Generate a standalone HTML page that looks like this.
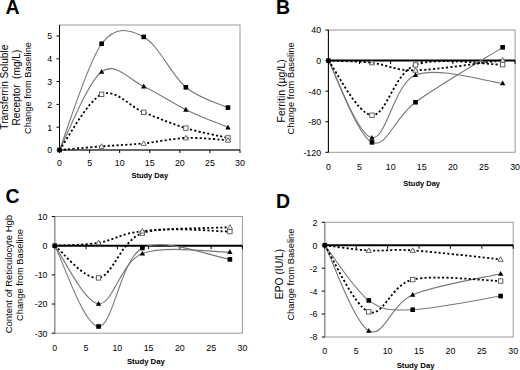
<!DOCTYPE html>
<html><head><meta charset="utf-8"><title>Figure</title>
<style>
html,body{margin:0;padding:0;background:#fff;}
body{width:520px;height:370px;overflow:hidden;}
svg{display:block;font-family:"Liberation Sans", sans-serif;}
</style></head>
<body>
<svg width="520" height="370" viewBox="0 0 520 370">
<rect width="520" height="370" fill="#fff"/>
<rect x="59.5" y="25" width="180.5" height="125" fill="none" stroke="#9a9a9a" stroke-width="1"/>
<line x1="59.5" y1="25" x2="59.5" y2="150" stroke="#000" stroke-width="1"/>
<line x1="56.5" y1="150" x2="59.5" y2="150" stroke="#000" stroke-width="1"/>
<text x="0" y="0" transform="translate(52.2,153.4) scale(0.92,1)" font-size="9.6" text-anchor="end" font-weight="normal" fill="#000">0</text>
<line x1="56.5" y1="127.2" x2="59.5" y2="127.2" stroke="#000" stroke-width="1"/>
<text x="0" y="0" transform="translate(52.2,130.6) scale(0.92,1)" font-size="9.6" text-anchor="end" font-weight="normal" fill="#000">1</text>
<line x1="56.5" y1="104.4" x2="59.5" y2="104.4" stroke="#000" stroke-width="1"/>
<text x="0" y="0" transform="translate(52.2,107.8) scale(0.92,1)" font-size="9.6" text-anchor="end" font-weight="normal" fill="#000">2</text>
<line x1="56.5" y1="81.59" x2="59.5" y2="81.59" stroke="#000" stroke-width="1"/>
<text x="0" y="0" transform="translate(52.2,84.99) scale(0.92,1)" font-size="9.6" text-anchor="end" font-weight="normal" fill="#000">3</text>
<line x1="56.5" y1="58.79" x2="59.5" y2="58.79" stroke="#000" stroke-width="1"/>
<text x="0" y="0" transform="translate(52.2,62.19) scale(0.92,1)" font-size="9.6" text-anchor="end" font-weight="normal" fill="#000">4</text>
<line x1="56.5" y1="35.99" x2="59.5" y2="35.99" stroke="#000" stroke-width="1"/>
<text x="0" y="0" transform="translate(52.2,39.39) scale(0.92,1)" font-size="9.6" text-anchor="end" font-weight="normal" fill="#000">5</text>
<line x1="59.5" y1="150" x2="240" y2="150" stroke="#000" stroke-width="1"/>
<line x1="59.5" y1="150" x2="59.5" y2="153" stroke="#000" stroke-width="1"/>
<text x="0" y="0" transform="translate(59.5,165.5) scale(0.92,1)" font-size="9.6" text-anchor="middle" font-weight="normal" fill="#000">0</text>
<line x1="89.58" y1="150" x2="89.58" y2="153" stroke="#000" stroke-width="1"/>
<text x="0" y="0" transform="translate(89.58,165.5) scale(0.92,1)" font-size="9.6" text-anchor="middle" font-weight="normal" fill="#000">5</text>
<line x1="119.67" y1="150" x2="119.67" y2="153" stroke="#000" stroke-width="1"/>
<text x="0" y="0" transform="translate(119.67,165.5) scale(0.92,1)" font-size="9.6" text-anchor="middle" font-weight="normal" fill="#000">10</text>
<line x1="149.75" y1="150" x2="149.75" y2="153" stroke="#000" stroke-width="1"/>
<text x="0" y="0" transform="translate(149.75,165.5) scale(0.92,1)" font-size="9.6" text-anchor="middle" font-weight="normal" fill="#000">15</text>
<line x1="179.83" y1="150" x2="179.83" y2="153" stroke="#000" stroke-width="1"/>
<text x="0" y="0" transform="translate(179.83,165.5) scale(0.92,1)" font-size="9.6" text-anchor="middle" font-weight="normal" fill="#000">20</text>
<line x1="209.92" y1="150" x2="209.92" y2="153" stroke="#000" stroke-width="1"/>
<text x="0" y="0" transform="translate(209.92,165.5) scale(0.92,1)" font-size="9.6" text-anchor="middle" font-weight="normal" fill="#000">25</text>
<line x1="240" y1="150" x2="240" y2="153" stroke="#000" stroke-width="1"/>
<text x="0" y="0" transform="translate(240,165.5) scale(0.92,1)" font-size="9.6" text-anchor="middle" font-weight="normal" fill="#000">30</text>
<path d="M59.5,150 C66.52,132.29 87.58,62.59 101.62,43.74 C115.66,24.89 129.69,29.64 143.73,36.9 C157.77,44.16 171.81,75.51 185.85,87.29 C199.89,99.08 220.95,104.21 227.97,107.59" fill="none" stroke="#777777" stroke-width="1.1"/>
<path d="M59.5,150 C66.52,136.96 87.58,82.39 101.62,71.79 C115.66,61.19 129.69,80.07 143.73,86.38 C157.77,92.69 171.81,102.8 185.85,109.64 C199.89,116.48 220.95,124.46 227.97,127.43" fill="none" stroke="#777777" stroke-width="1.1"/>
<path d="M59.5,150 C66.52,140.73 87.58,100.63 101.62,94.36 C115.66,88.09 129.69,106.75 143.73,112.38 C157.77,118 171.81,123.85 185.85,128.11 C199.89,132.37 220.95,136.28 227.97,137.91" fill="none" stroke="#000" stroke-width="1.8" stroke-dasharray="2.1,2.3"/>
<path d="M59.5,150 C66.52,149.39 87.58,147.45 101.62,146.35 C115.66,145.25 129.69,144.79 143.73,143.39 C157.77,141.98 171.81,138.45 185.85,137.91 C199.89,137.38 220.95,139.82 227.97,140.2" fill="none" stroke="#000" stroke-width="1.8" stroke-dasharray="2.1,2.3"/>
<rect x="99.32" y="41.44" width="4.6" height="4.6" fill="#000"/>
<rect x="141.43" y="34.6" width="4.6" height="4.6" fill="#000"/>
<rect x="183.55" y="84.99" width="4.6" height="4.6" fill="#000"/>
<rect x="225.67" y="105.29" width="4.6" height="4.6" fill="#000"/>
<path d="M101.62,68.99 L104.32,73.79 L98.92,73.79 Z" fill="#000"/>
<path d="M143.73,83.58 L146.43,88.38 L141.03,88.38 Z" fill="#000"/>
<path d="M185.85,106.84 L188.55,111.64 L183.15,111.64 Z" fill="#000"/>
<path d="M227.97,124.63 L230.67,129.43 L225.27,129.43 Z" fill="#000"/>
<rect x="99.42" y="92.16" width="4.4" height="4.4" fill="#fff" stroke="#555" stroke-width="0.9"/>
<rect x="141.53" y="110.18" width="4.4" height="4.4" fill="#fff" stroke="#555" stroke-width="0.9"/>
<rect x="183.65" y="125.91" width="4.4" height="4.4" fill="#fff" stroke="#555" stroke-width="0.9"/>
<rect x="225.77" y="135.71" width="4.4" height="4.4" fill="#fff" stroke="#555" stroke-width="0.9"/>
<path d="M101.62,143.75 L104.22,148.35 L99.02,148.35 Z" fill="#fff" stroke="#555" stroke-width="0.9"/>
<path d="M143.73,140.79 L146.33,145.39 L141.13,145.39 Z" fill="#fff" stroke="#555" stroke-width="0.9"/>
<path d="M185.85,135.31 L188.45,139.91 L183.25,139.91 Z" fill="#fff" stroke="#555" stroke-width="0.9"/>
<path d="M227.97,137.6 L230.57,142.2 L225.37,142.2 Z" fill="#fff" stroke="#555" stroke-width="0.9"/>
<rect x="57.2" y="147.7" width="4.6" height="4.6" fill="#000"/>
<text x="149.8" y="178.3" font-size="7.5" text-anchor="middle" font-weight="bold" fill="#000">Study Day</text>
<text x="5.5" y="14.2" font-size="19.5" text-anchor="start" font-weight="bold" fill="#000">A</text>
<text x="0" y="0" transform="translate(7.6,87.2) rotate(-90)" font-size="10.1" text-anchor="middle" font-weight="normal" fill="#000">Transferrin Soluble</text>
<text x="0" y="0" transform="translate(20.2,87.6) rotate(-90)" font-size="10.1" text-anchor="middle" font-weight="normal" fill="#000">Receptor&#160; (mg/L)</text>
<text x="0" y="0" transform="translate(30.8,88) rotate(-90)" font-size="9.3" text-anchor="middle" font-weight="normal" fill="#000">Change from Baseline</text>
<rect x="328.4" y="30" width="186.7" height="122.3" fill="none" stroke="#9a9a9a" stroke-width="1"/>
<line x1="328.4" y1="30" x2="328.4" y2="152.3" stroke="#000" stroke-width="1"/>
<line x1="325.4" y1="30" x2="328.4" y2="30" stroke="#000" stroke-width="1"/>
<text x="0" y="0" transform="translate(321.1,33.4) scale(0.92,1)" font-size="9.6" text-anchor="end" font-weight="normal" fill="#000">40</text>
<line x1="325.4" y1="60.58" x2="328.4" y2="60.58" stroke="#000" stroke-width="1"/>
<text x="0" y="0" transform="translate(321.1,63.98) scale(0.92,1)" font-size="9.6" text-anchor="end" font-weight="normal" fill="#000">0</text>
<line x1="325.4" y1="91.15" x2="328.4" y2="91.15" stroke="#000" stroke-width="1"/>
<text x="0" y="0" transform="translate(321.1,94.55) scale(0.92,1)" font-size="9.6" text-anchor="end" font-weight="normal" fill="#000">-40</text>
<line x1="325.4" y1="121.73" x2="328.4" y2="121.73" stroke="#000" stroke-width="1"/>
<text x="0" y="0" transform="translate(321.1,125.13) scale(0.92,1)" font-size="9.6" text-anchor="end" font-weight="normal" fill="#000">-80</text>
<line x1="325.4" y1="152.3" x2="328.4" y2="152.3" stroke="#000" stroke-width="1"/>
<text x="0" y="0" transform="translate(321.1,155.7) scale(0.92,1)" font-size="9.6" text-anchor="end" font-weight="normal" fill="#000">-120</text>
<line x1="328.4" y1="60.58" x2="515.1" y2="60.58" stroke="#000" stroke-width="2"/>
<line x1="328.4" y1="60.58" x2="328.4" y2="64.08" stroke="#000" stroke-width="1"/>
<text x="0" y="0" transform="translate(328.4,170.4) scale(0.92,1)" font-size="9.6" text-anchor="middle" font-weight="normal" fill="#000">0</text>
<line x1="359.52" y1="60.58" x2="359.52" y2="64.08" stroke="#000" stroke-width="1"/>
<text x="0" y="0" transform="translate(359.52,170.4) scale(0.92,1)" font-size="9.6" text-anchor="middle" font-weight="normal" fill="#000">5</text>
<line x1="390.63" y1="60.58" x2="390.63" y2="64.08" stroke="#000" stroke-width="1"/>
<text x="0" y="0" transform="translate(390.63,170.4) scale(0.92,1)" font-size="9.6" text-anchor="middle" font-weight="normal" fill="#000">10</text>
<line x1="421.75" y1="60.58" x2="421.75" y2="64.08" stroke="#000" stroke-width="1"/>
<text x="0" y="0" transform="translate(421.75,170.4) scale(0.92,1)" font-size="9.6" text-anchor="middle" font-weight="normal" fill="#000">15</text>
<line x1="452.87" y1="60.58" x2="452.87" y2="64.08" stroke="#000" stroke-width="1"/>
<text x="0" y="0" transform="translate(452.87,170.4) scale(0.92,1)" font-size="9.6" text-anchor="middle" font-weight="normal" fill="#000">20</text>
<line x1="483.98" y1="60.58" x2="483.98" y2="64.08" stroke="#000" stroke-width="1"/>
<text x="0" y="0" transform="translate(483.98,170.4) scale(0.92,1)" font-size="9.6" text-anchor="middle" font-weight="normal" fill="#000">25</text>
<line x1="515.1" y1="60.58" x2="515.1" y2="64.08" stroke="#000" stroke-width="1"/>
<text x="0" y="0" transform="translate(515.1,170.4) scale(0.92,1)" font-size="9.6" text-anchor="middle" font-weight="normal" fill="#000">30</text>
<path d="M328.4,60.58 C335.66,74.21 357.44,135.42 371.96,142.36 C386.48,149.31 393.74,118.07 415.53,102.23 C437.31,86.4 488.13,56.5 502.65,47.35" fill="none" stroke="#777777" stroke-width="1.1"/>
<path d="M328.4,60.58 C335.66,73.44 357.44,135.36 371.96,137.78 C386.48,140.2 393.74,84.17 415.53,75.1 C437.31,66.03 488.13,81.98 502.65,83.35" fill="none" stroke="#777777" stroke-width="1.1"/>
<path d="M328.4,60.58 C335.66,69.68 357.44,114.5 371.96,115.23 C386.48,115.95 393.74,73.35 415.53,64.93 C437.31,56.51 488.13,64.74 502.65,64.7" fill="none" stroke="#000" stroke-width="1.8" stroke-dasharray="2.1,2.3"/>
<path d="M328.4,60.58 C335.66,60.94 357.44,61.17 371.96,62.79 C386.48,64.41 393.74,70.72 415.53,70.28 C437.31,69.85 488.13,61.87 502.65,60.19" fill="none" stroke="#000" stroke-width="1.8" stroke-dasharray="2.1,2.3"/>
<rect x="369.66" y="140.06" width="4.6" height="4.6" fill="#000"/>
<rect x="413.23" y="99.93" width="4.6" height="4.6" fill="#000"/>
<rect x="500.35" y="45.05" width="4.6" height="4.6" fill="#000"/>
<path d="M371.96,134.98 L374.66,139.78 L369.26,139.78 Z" fill="#000"/>
<path d="M415.53,72.3 L418.23,77.1 L412.83,77.1 Z" fill="#000"/>
<path d="M502.65,80.55 L505.35,85.35 L499.95,85.35 Z" fill="#000"/>
<rect x="369.76" y="113.03" width="4.4" height="4.4" fill="#fff" stroke="#555" stroke-width="0.9"/>
<rect x="413.33" y="62.73" width="4.4" height="4.4" fill="#fff" stroke="#555" stroke-width="0.9"/>
<rect x="500.45" y="62.5" width="4.4" height="4.4" fill="#fff" stroke="#555" stroke-width="0.9"/>
<path d="M371.96,60.19 L374.56,64.79 L369.36,64.79 Z" fill="#fff" stroke="#555" stroke-width="0.9"/>
<path d="M415.53,67.68 L418.13,72.28 L412.93,72.28 Z" fill="#fff" stroke="#555" stroke-width="0.9"/>
<path d="M502.65,57.59 L505.25,62.19 L500.05,62.19 Z" fill="#fff" stroke="#555" stroke-width="0.9"/>
<rect x="326.1" y="58.28" width="4.6" height="4.6" fill="#000"/>
<text x="421.7" y="186" font-size="7.5" text-anchor="middle" font-weight="bold" fill="#000">Study Day</text>
<text x="276" y="14.2" font-size="19.5" text-anchor="start" font-weight="bold" fill="#000">B</text>
<text x="0" y="0" transform="translate(285.3,90.9) rotate(-90)" font-size="10.5" text-anchor="middle" font-weight="normal" fill="#000">Ferritin (&#181;g/L)</text>
<text x="0" y="0" transform="translate(294.2,88.4) rotate(-90)" font-size="9.3" text-anchor="middle" font-weight="normal" fill="#000">Change from Baseline</text>
<rect x="54.8" y="216.5" width="187.6" height="116.7" fill="none" stroke="#9a9a9a" stroke-width="1"/>
<line x1="54.8" y1="216.5" x2="54.8" y2="333.2" stroke="#888" stroke-width="1"/>
<line x1="51.8" y1="216.5" x2="54.8" y2="216.5" stroke="#000" stroke-width="1"/>
<text x="0" y="0" transform="translate(47.5,219.9) scale(0.92,1)" font-size="9.6" text-anchor="end" font-weight="normal" fill="#000">10</text>
<line x1="51.8" y1="245.68" x2="54.8" y2="245.68" stroke="#000" stroke-width="1"/>
<text x="0" y="0" transform="translate(47.5,249.08) scale(0.92,1)" font-size="9.6" text-anchor="end" font-weight="normal" fill="#000">0</text>
<line x1="51.8" y1="274.85" x2="54.8" y2="274.85" stroke="#000" stroke-width="1"/>
<text x="0" y="0" transform="translate(47.5,278.25) scale(0.92,1)" font-size="9.6" text-anchor="end" font-weight="normal" fill="#000">-10</text>
<line x1="51.8" y1="304.02" x2="54.8" y2="304.02" stroke="#000" stroke-width="1"/>
<text x="0" y="0" transform="translate(47.5,307.42) scale(0.92,1)" font-size="9.6" text-anchor="end" font-weight="normal" fill="#000">-20</text>
<line x1="51.8" y1="333.2" x2="54.8" y2="333.2" stroke="#000" stroke-width="1"/>
<text x="0" y="0" transform="translate(47.5,336.6) scale(0.92,1)" font-size="9.6" text-anchor="end" font-weight="normal" fill="#000">-30</text>
<line x1="54.8" y1="245.68" x2="242.4" y2="245.68" stroke="#000" stroke-width="2"/>
<line x1="54.8" y1="245.68" x2="54.8" y2="249.18" stroke="#000" stroke-width="1"/>
<text x="0" y="0" transform="translate(54.8,350.8) scale(0.92,1)" font-size="9.6" text-anchor="middle" font-weight="normal" fill="#000">0</text>
<line x1="86.07" y1="245.68" x2="86.07" y2="249.18" stroke="#000" stroke-width="1"/>
<text x="0" y="0" transform="translate(86.07,350.8) scale(0.92,1)" font-size="9.6" text-anchor="middle" font-weight="normal" fill="#000">5</text>
<line x1="117.33" y1="245.68" x2="117.33" y2="249.18" stroke="#000" stroke-width="1"/>
<text x="0" y="0" transform="translate(117.33,350.8) scale(0.92,1)" font-size="9.6" text-anchor="middle" font-weight="normal" fill="#000">10</text>
<line x1="148.6" y1="245.68" x2="148.6" y2="249.18" stroke="#000" stroke-width="1"/>
<text x="0" y="0" transform="translate(148.6,350.8) scale(0.92,1)" font-size="9.6" text-anchor="middle" font-weight="normal" fill="#000">15</text>
<line x1="179.87" y1="245.68" x2="179.87" y2="249.18" stroke="#000" stroke-width="1"/>
<text x="0" y="0" transform="translate(179.87,350.8) scale(0.92,1)" font-size="9.6" text-anchor="middle" font-weight="normal" fill="#000">20</text>
<line x1="211.13" y1="245.68" x2="211.13" y2="249.18" stroke="#000" stroke-width="1"/>
<text x="0" y="0" transform="translate(211.13,350.8) scale(0.92,1)" font-size="9.6" text-anchor="middle" font-weight="normal" fill="#000">25</text>
<line x1="242.4" y1="245.68" x2="242.4" y2="249.18" stroke="#000" stroke-width="1"/>
<text x="0" y="0" transform="translate(242.4,350.8) scale(0.92,1)" font-size="9.6" text-anchor="middle" font-weight="normal" fill="#000">30</text>
<path d="M54.8,245.68 C62.1,259.14 83.98,326.1 98.57,326.49 C113.16,326.88 120.46,259.19 142.35,248.01 C164.23,236.83 215.3,257.49 229.89,259.39" fill="none" stroke="#777777" stroke-width="1.1"/>
<path d="M54.8,245.68 C62.1,255.35 83.98,302.42 98.57,303.73 C113.16,305.05 120.46,262.16 142.35,253.55 C164.23,244.95 215.3,252.34 229.89,252.09" fill="none" stroke="#777777" stroke-width="1.1"/>
<path d="M54.8,245.68 C62.1,251.05 83.98,280 98.57,277.91 C113.16,275.82 120.46,240.86 142.35,233.13 C164.23,225.4 215.3,231.79 229.89,231.53" fill="none" stroke="#000" stroke-width="1.8" stroke-dasharray="2.1,2.3"/>
<path d="M54.8,245.68 C62.1,245.19 83.98,245.19 98.57,242.76 C113.16,240.33 120.46,233.66 142.35,231.09 C164.23,228.51 215.3,227.93 229.89,227.29" fill="none" stroke="#000" stroke-width="1.8" stroke-dasharray="2.1,2.3"/>
<rect x="96.27" y="324.19" width="4.6" height="4.6" fill="#000"/>
<rect x="140.05" y="245.71" width="4.6" height="4.6" fill="#000"/>
<rect x="227.59" y="257.09" width="4.6" height="4.6" fill="#000"/>
<path d="M98.57,300.93 L101.27,305.73 L95.87,305.73 Z" fill="#000"/>
<path d="M142.35,250.75 L145.05,255.55 L139.65,255.55 Z" fill="#000"/>
<path d="M229.89,249.29 L232.59,254.09 L227.19,254.09 Z" fill="#000"/>
<rect x="96.37" y="275.71" width="4.4" height="4.4" fill="#fff" stroke="#555" stroke-width="0.9"/>
<rect x="140.15" y="230.93" width="4.4" height="4.4" fill="#fff" stroke="#555" stroke-width="0.9"/>
<rect x="227.69" y="229.33" width="4.4" height="4.4" fill="#fff" stroke="#555" stroke-width="0.9"/>
<path d="M98.57,240.16 L101.17,244.76 L95.97,244.76 Z" fill="#fff" stroke="#555" stroke-width="0.9"/>
<path d="M142.35,228.49 L144.95,233.09 L139.75,233.09 Z" fill="#fff" stroke="#555" stroke-width="0.9"/>
<path d="M229.89,224.69 L232.49,229.29 L227.29,229.29 Z" fill="#fff" stroke="#555" stroke-width="0.9"/>
<rect x="52.5" y="243.38" width="4.6" height="4.6" fill="#000"/>
<text x="145.9" y="364" font-size="7.75" text-anchor="middle" font-weight="bold" fill="#000">Study Day</text>
<text x="5.5" y="203" font-size="19.5" text-anchor="start" font-weight="bold" fill="#000">C</text>
<text x="0" y="0" transform="translate(12.4,274.1) rotate(-90)" font-size="9.52" text-anchor="middle" font-weight="normal" fill="#000">Content of Reticulocyte Hgb</text>
<text x="0" y="0" transform="translate(22.6,275) rotate(-90)" font-size="9.3" text-anchor="middle" font-weight="normal" fill="#000">Change from Baseline</text>
<rect x="324.8" y="222.3" width="188.4" height="114.7" fill="none" stroke="#9a9a9a" stroke-width="1"/>
<line x1="324.8" y1="222.3" x2="324.8" y2="337" stroke="#888" stroke-width="1"/>
<line x1="321.8" y1="222.3" x2="324.8" y2="222.3" stroke="#000" stroke-width="1"/>
<text x="0" y="0" transform="translate(317.5,225.7) scale(0.92,1)" font-size="9.6" text-anchor="end" font-weight="normal" fill="#000">2</text>
<line x1="321.8" y1="245.24" x2="324.8" y2="245.24" stroke="#000" stroke-width="1"/>
<text x="0" y="0" transform="translate(317.5,248.64) scale(0.92,1)" font-size="9.6" text-anchor="end" font-weight="normal" fill="#000">0</text>
<line x1="321.8" y1="268.18" x2="324.8" y2="268.18" stroke="#000" stroke-width="1"/>
<text x="0" y="0" transform="translate(317.5,271.58) scale(0.92,1)" font-size="9.6" text-anchor="end" font-weight="normal" fill="#000">-2</text>
<line x1="321.8" y1="291.12" x2="324.8" y2="291.12" stroke="#000" stroke-width="1"/>
<text x="0" y="0" transform="translate(317.5,294.52) scale(0.92,1)" font-size="9.6" text-anchor="end" font-weight="normal" fill="#000">-4</text>
<line x1="321.8" y1="314.06" x2="324.8" y2="314.06" stroke="#000" stroke-width="1"/>
<text x="0" y="0" transform="translate(317.5,317.46) scale(0.92,1)" font-size="9.6" text-anchor="end" font-weight="normal" fill="#000">-6</text>
<line x1="321.8" y1="337" x2="324.8" y2="337" stroke="#000" stroke-width="1"/>
<text x="0" y="0" transform="translate(317.5,340.4) scale(0.92,1)" font-size="9.6" text-anchor="end" font-weight="normal" fill="#000">-8</text>
<line x1="324.8" y1="245.24" x2="513.2" y2="245.24" stroke="#000" stroke-width="2"/>
<line x1="324.8" y1="245.24" x2="324.8" y2="248.74" stroke="#000" stroke-width="1"/>
<text x="0" y="0" transform="translate(324.8,353.8) scale(0.92,1)" font-size="9.6" text-anchor="middle" font-weight="normal" fill="#000">0</text>
<line x1="356.2" y1="245.24" x2="356.2" y2="248.74" stroke="#000" stroke-width="1"/>
<text x="0" y="0" transform="translate(356.2,353.8) scale(0.92,1)" font-size="9.6" text-anchor="middle" font-weight="normal" fill="#000">5</text>
<line x1="387.6" y1="245.24" x2="387.6" y2="248.74" stroke="#000" stroke-width="1"/>
<text x="0" y="0" transform="translate(387.6,353.8) scale(0.92,1)" font-size="9.6" text-anchor="middle" font-weight="normal" fill="#000">10</text>
<line x1="419" y1="245.24" x2="419" y2="248.74" stroke="#000" stroke-width="1"/>
<text x="0" y="0" transform="translate(419,353.8) scale(0.92,1)" font-size="9.6" text-anchor="middle" font-weight="normal" fill="#000">15</text>
<line x1="450.4" y1="245.24" x2="450.4" y2="248.74" stroke="#000" stroke-width="1"/>
<text x="0" y="0" transform="translate(450.4,353.8) scale(0.92,1)" font-size="9.6" text-anchor="middle" font-weight="normal" fill="#000">20</text>
<line x1="481.8" y1="245.24" x2="481.8" y2="248.74" stroke="#000" stroke-width="1"/>
<text x="0" y="0" transform="translate(481.8,353.8) scale(0.92,1)" font-size="9.6" text-anchor="middle" font-weight="normal" fill="#000">25</text>
<line x1="513.2" y1="245.24" x2="513.2" y2="248.74" stroke="#000" stroke-width="1"/>
<text x="0" y="0" transform="translate(513.2,353.8) scale(0.92,1)" font-size="9.6" text-anchor="middle" font-weight="normal" fill="#000">30</text>
<path d="M324.8,245.24 C332.13,254.44 354.11,289.67 368.76,300.41 C383.41,311.15 390.74,310.43 412.72,309.7 C434.7,308.97 485.99,298.33 500.64,296.05" fill="none" stroke="#777777" stroke-width="1.1"/>
<path d="M324.8,245.24 C332.13,259.5 354.11,322.55 368.76,330.81 C383.41,339.06 390.74,304.31 412.72,294.79 C434.7,285.27 485.99,277.2 500.64,273.69" fill="none" stroke="#777777" stroke-width="1.1"/>
<path d="M324.8,245.24 C332.13,256.35 354.11,306.16 368.76,311.88 C383.41,317.6 390.74,284.68 412.72,279.54 C434.7,274.39 485.99,280.78 500.64,281.03" fill="none" stroke="#000" stroke-width="1.8" stroke-dasharray="2.1,2.3"/>
<path d="M324.8,245.24 C332.13,246.12 354.11,249.66 368.76,250.52 C383.41,251.38 390.74,248.93 412.72,250.4 C434.7,251.87 485.99,257.86 500.64,259.35" fill="none" stroke="#000" stroke-width="1.8" stroke-dasharray="2.1,2.3"/>
<rect x="366.46" y="298.11" width="4.6" height="4.6" fill="#000"/>
<rect x="410.42" y="307.4" width="4.6" height="4.6" fill="#000"/>
<rect x="498.34" y="293.75" width="4.6" height="4.6" fill="#000"/>
<path d="M368.76,328.01 L371.46,332.81 L366.06,332.81 Z" fill="#000"/>
<path d="M412.72,291.99 L415.42,296.79 L410.02,296.79 Z" fill="#000"/>
<path d="M500.64,270.89 L503.34,275.69 L497.94,275.69 Z" fill="#000"/>
<rect x="366.56" y="309.68" width="4.4" height="4.4" fill="#fff" stroke="#555" stroke-width="0.9"/>
<rect x="410.52" y="277.34" width="4.4" height="4.4" fill="#fff" stroke="#555" stroke-width="0.9"/>
<rect x="498.44" y="278.83" width="4.4" height="4.4" fill="#fff" stroke="#555" stroke-width="0.9"/>
<path d="M368.76,247.92 L371.36,252.52 L366.16,252.52 Z" fill="#fff" stroke="#555" stroke-width="0.9"/>
<path d="M412.72,247.8 L415.32,252.4 L410.12,252.4 Z" fill="#fff" stroke="#555" stroke-width="0.9"/>
<path d="M500.64,256.75 L503.24,261.35 L498.04,261.35 Z" fill="#fff" stroke="#555" stroke-width="0.9"/>
<rect x="322.5" y="242.94" width="4.6" height="4.6" fill="#000"/>
<text x="415.6" y="367.9" font-size="7.75" text-anchor="middle" font-weight="bold" fill="#000">Study Day</text>
<text x="275.9" y="208" font-size="19.5" text-anchor="start" font-weight="bold" fill="#000">D</text>
<text x="0" y="0" transform="translate(283,274) rotate(-90)" font-size="10.3" text-anchor="middle" font-weight="normal" fill="#000">EPO (IU/L)</text>
<text x="0" y="0" transform="translate(293.9,274.6) rotate(-90)" font-size="9.3" text-anchor="middle" font-weight="normal" fill="#000">Change from Baseline</text>
</svg>
</body></html>
